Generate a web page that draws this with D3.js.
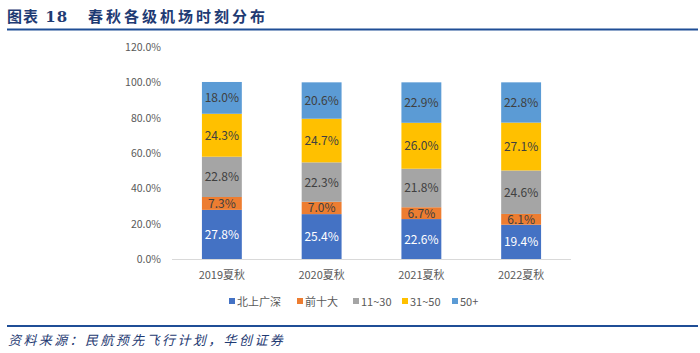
<!DOCTYPE html>
<meta charset="utf-8">
<head>
  <script src="https://d3js.org/d3.v7.min.js"></script>
  <style>
    body { margin: 0; background: #fff; }
    text { font-family: "Noto Sans CJK SC", "Noto Sans", sans-serif; }
  </style>
</head>
<body>
<div id="chart"></div>
<script>
  // data
  const years = ["2019夏秋", "2020夏秋", "2021夏秋", "2022夏秋"];
  const groups = ["北上广深", "前十大", "11~30", "31~50", "50+"];
  const bjsg = [27.8, 25.4, 22.6, 19.4];
  const top10 = [7.3, 7.0, 6.7, 6.1];
  const r11_30 = [22.8, 22.3, 21.8, 24.6];
  const r31_50 = [24.3, 24.7, 26.0, 27.1];
  const r50plus = [18.0, 20.6, 22.9, 22.8];
  const yTicks = [0, 20, 40, 60, 80, 100, 120];

  const colors = ["#4472C4", "#ED7D31", "#A5A5A5", "#FFC000", "#5B9BD5"];
  const labelColors = ["#ffffff", "#404040", "#404040", "#404040", "#404040"];

  const W = 700, H = 353;
  const svg = d3.select("#chart").append("svg")
    .attr("width", W).attr("height", H);

  // title + rules
  const title = svg.append("text")
    .attr("x", 7).attr("y", 22)
    .attr("fill", "#1F3B73")
    .style("font-size", "15px").style("font-weight", "bold");
  title.append("tspan").style("letter-spacing", "1px")
    .style("font-family", "'DejaVu Serif', 'Noto Sans CJK SC', serif")
    .text("图表 18");
  title.append("tspan").attr("x", 88).style("letter-spacing", "3px")
    .text("春秋各级机场时刻分布");
  svg.append("line").attr("x1", 7).attr("x2", 698).attr("y1", 29.5).attr("y2", 29.5)
    .attr("stroke", "#1F4E96").attr("stroke-width", 2);
  svg.append("line").attr("x1", 7).attr("x2", 698).attr("y1", 326).attr("y2", 326)
    .attr("stroke", "#1F4E96").attr("stroke-width", 2);
  svg.append("text")
    .attr("x", 8).attr("y", 345)
    .attr("fill", "#1F3B73")
    .style("font-size", "13px").style("font-style", "italic")
    .style("letter-spacing", "2.4px")
    .text("资料来源：民航预先飞行计划，华创证券");

  // rows for the stack
  const series = [bjsg, top10, r11_30, r31_50, r50plus];
  const rows = years.map((y, i) => {
    const r = { year: y };
    groups.forEach((g, j) => r[g] = series[j][i]);
    return r;
  });
  const stacked = d3.stack().keys(groups)(rows);

  const x = d3.scaleBand().domain(years).range([172, 571]).paddingInner(0.6).paddingOuter(0.3);
  const y = d3.scaleLinear().domain([0, 120]).range([259, 47]);

  // y labels
  svg.append("g").selectAll("text")
    .data(yTicks).enter().append("text")
    .attr("x", 161).attr("y", d => y(d) + 4)
    .attr("text-anchor", "end")
    .attr("fill", "#595959")
    .style("font-size", "10.5px")
    .text(d => d.toFixed(1) + "%");

  // bars
  const layer = svg.append("g").selectAll("g")
    .data(stacked).enter().append("g")
    .attr("fill", (d, i) => colors[i]);
  layer.selectAll("rect")
    .data(d => d).enter().append("rect")
    .attr("x", d => x(d.data.year))
    .attr("width", x.bandwidth())
    .attr("y", d => y(d[1]))
    .attr("height", d => y(d[0]) - y(d[1]));

  // data labels
  stacked.forEach((s, i) => {
    svg.append("g").selectAll("text")
      .data(s).enter().append("text")
      .attr("x", d => x(d.data.year) + x.bandwidth() / 2)
      .attr("y", d => (y(d[0]) + y(d[1])) / 2 + 4.5)
      .attr("text-anchor", "middle")
      .attr("fill", labelColors[i])
      .style("font-size", "12px")
      .text(d => (d[1] - d[0]).toFixed(1) + "%");
  });

  // baseline
  svg.append("line").attr("x1", 172).attr("x2", 571)
    .attr("y1", y(0) + 0.5).attr("y2", y(0) + 0.5)
    .attr("stroke", "#D9D9D9").attr("stroke-width", 1);

  // x labels
  svg.append("g").selectAll("text")
    .data(years).enter().append("text")
    .attr("x", d => x(d) + x.bandwidth() / 2)
    .attr("y", 279)
    .attr("text-anchor", "middle")
    .attr("fill", "#595959")
    .style("font-size", "11px")
    .text(d => d);

  // legend
  const legendX = [229, 297, 353, 402, 452];
  const lg = svg.append("g").selectAll("g")
    .data(groups).enter().append("g")
    .attr("transform", (d, i) => "translate(" + legendX[i] + ",302)");
  lg.append("rect").attr("x", 0).attr("y", -4).attr("width", 6).attr("height", 6)
    .attr("fill", (d, i) => colors[i]);
  lg.append("text").attr("x", 8).attr("y", 3.5)
    .attr("fill", "#595959")
    .style("font-size", "11px")
    .text(d => d);
</script>
</body>
